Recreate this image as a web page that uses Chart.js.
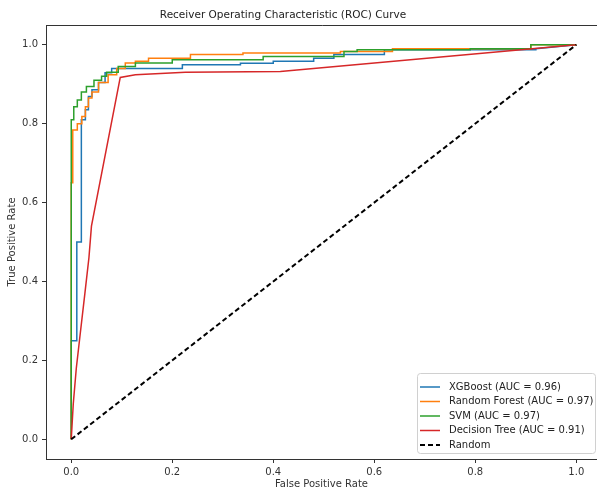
<!DOCTYPE html>
<html>
<head>
<meta charset="utf-8">
<script src="https://cdn.jsdelivr.net/npm/chart.js@4.4.1/dist/chart.umd.min.js"></script>
<style>
  html, body { margin: 0; padding: 0; background: #fff; }
  canvas { display: block; }
</style>
</head>
<body>
<canvas id="roc" width="597" height="490"></canvas>
<script>
const xTicks = [0, 0.2, 0.4, 0.6, 0.8, 1.0];
const yTicks = [0, 0.2, 0.4, 0.6, 0.8, 1.0];

const seriesNames = ['XGBoost (AUC = 0.96)', 'Random Forest (AUC = 0.97)', 'SVM (AUC = 0.97)', 'Decision Tree (AUC = 0.91)', 'Random'];

const xgbFpr = [0, 0, 0.011, 0.011, 0.02, 0.02, 0.028, 0.028, 0.034, 0.034, 0.041, 0.041, 0.054, 0.054, 0.067, 0.067, 0.08, 0.08, 0.22, 0.22, 0.335, 0.335, 0.40, 0.40, 0.48, 0.48, 0.52, 0.52, 0.62, 0.62, 0.92, 0.92, 1];
const xgbTpr = [0, 0.25, 0.25, 0.50, 0.50, 0.81, 0.81, 0.835, 0.835, 0.869, 0.869, 0.886, 0.886, 0.904, 0.904, 0.929, 0.929, 0.94, 0.94, 0.949, 0.949, 0.953, 0.953, 0.958, 0.958, 0.966, 0.966, 0.975, 0.975, 0.987, 0.987, 0.99, 1.0];

const rfFpr = [0, 0, 0.003, 0.003, 0.012, 0.012, 0.021, 0.021, 0.028, 0.028, 0.034, 0.034, 0.041, 0.041, 0.054, 0.054, 0.073, 0.073, 0.09, 0.09, 0.107, 0.107, 0.127, 0.127, 0.153, 0.153, 0.236, 0.236, 0.34, 0.34, 0.533, 0.533, 0.636, 0.636, 0.91, 0.91, 1];
const rfTpr = [0, 0.65, 0.65, 0.784, 0.784, 0.80, 0.80, 0.818, 0.818, 0.843, 0.843, 0.865, 0.865, 0.88, 0.88, 0.904, 0.904, 0.924, 0.924, 0.94, 0.94, 0.954, 0.954, 0.958, 0.958, 0.966, 0.966, 0.975, 0.975, 0.979, 0.979, 0.983, 0.983, 0.99, 0.99, 1.0, 1.0];

const svmFpr = [0, 0, 0.005, 0.005, 0.012, 0.012, 0.02, 0.02, 0.03, 0.03, 0.045, 0.045, 0.06, 0.06, 0.07, 0.07, 0.093, 0.093, 0.127, 0.127, 0.2, 0.2, 0.38, 0.38, 0.54, 0.54, 0.566, 0.566, 0.79, 0.79, 0.91, 0.91, 1];
const svmTpr = [0, 0.81, 0.81, 0.843, 0.843, 0.86, 0.86, 0.88, 0.88, 0.894, 0.894, 0.91, 0.91, 0.92, 0.92, 0.93, 0.93, 0.945, 0.945, 0.954, 0.954, 0.962, 0.962, 0.97, 0.97, 0.983, 0.983, 0.987, 0.987, 0.99, 0.99, 1.0, 1.0];

const dtFpr = [0, 0.004, 0.01, 0.018, 0.027, 0.035, 0.04, 0.097, 0.127, 0.226, 0.414, 1];
const dtTpr = [0, 0.09, 0.18, 0.27, 0.37, 0.46, 0.54, 0.917, 0.924, 0.93, 0.932, 1];

const randFpr = [0, 1];
const randTpr = [0, 1];

const colors = ['#1f77b4', '#ff7f0e', '#2ca02c', '#d62728', '#000000'];

function pts(xs, ys) {
  return xs.map((x, i) => ({ x: x, y: ys[i] }));
}

const FONT = 'DejaVu Sans';

// matplotlib style frame, title and legend
const mplDecor = {
  id: 'mplDecor',
  afterDatasetsDraw(chart) {
    const ctx = chart.ctx;
    const a = chart.chartArea;
    ctx.save();
    ctx.strokeStyle = '#333';
    ctx.lineWidth = 1;
    ctx.beginPath();
    ctx.moveTo(a.left + 0.5, a.top + 0.5);
    ctx.lineTo(a.right + 5, a.top + 0.5);
    ctx.stroke();

    // title
    ctx.fillStyle = '#222';
    ctx.font = '10.5px "' + FONT + '"';
    ctx.textAlign = 'center';
    ctx.textBaseline = 'middle';
    ctx.fillText('Receiver Operating Characteristic (ROC) Curve', 283, 15);

    // legend
    const bx = 417, by = 373, bw = 178, bh = 80;
    ctx.fillStyle = 'rgba(255,255,255,0.85)';
    ctx.strokeStyle = '#d0d0d0';
    ctx.beginPath();
    ctx.roundRect(bx + 0.5, by + 0.5, bw, bh, 3);
    ctx.fill();
    ctx.stroke();
    ctx.font = '10px "' + FONT + '"';
    ctx.textAlign = 'left';
    chart.data.datasets.forEach((ds, i) => {
      const y = by + 14 + i * 14.5;
      ctx.strokeStyle = ds.borderColor;
      ctx.lineWidth = ds.borderWidth;
      ctx.setLineDash(ds.borderDash || []);
      ctx.beginPath();
      ctx.moveTo(bx + 3, y);
      ctx.lineTo(bx + 23, y);
      ctx.stroke();
      ctx.setLineDash([]);
      ctx.fillStyle = '#222';
      ctx.fillText(ds.label, bx + 32, y);
    });
    ctx.restore();
  }
};

const series = [
  pts(xgbFpr, xgbTpr),
  pts(rfFpr, rfTpr),
  pts(svmFpr, svmTpr),
  pts(dtFpr, dtTpr),
  pts(randFpr, randTpr)
];

new Chart(document.getElementById('roc'), {
  type: 'scatter',
  data: {
    datasets: series.map((d, i) => ({
      label: seriesNames[i],
      data: d,
      showLine: true,
      borderColor: colors[i],
      backgroundColor: colors[i],
      borderWidth: i === 4 ? 2 : 1.5,
      borderDash: i === 4 ? [5, 3] : [],
      pointRadius: 0,
      tension: 0,
      order: 5 - i
    }))
  },
  options: {
    responsive: false,
    animation: false,
    devicePixelRatio: 1,
    layout: { padding: { top: 25, left: 0, right: 0, bottom: 0 } },
    plugins: {
      legend: { display: false },
      title: { display: false },
      tooltip: { enabled: false }
    },
    scales: {
      x: {
        type: 'linear',
        min: -0.05,
        max: 1.041,
        afterFit(scale) { scale.height = 31; },
        afterBuildTicks(scale) { scale.ticks = xTicks.map(v => ({ value: v })); },
        grid: { drawOnChartArea: false, drawTicks: true, tickLength: 4, color: '#333' },
        border: { display: true, color: '#333' },
        ticks: {
          padding: 3,
          color: '#333',
          font: { family: FONT, size: 10 },
          maxRotation: 0,
          callback: v => v.toFixed(1)
        },
        title: {
          display: true,
          text: 'False Positive Rate',
          color: '#333',
          font: { family: FONT, size: 10 },
          padding: { top: 0, bottom: 0 }
        }
      },
      y: {
        type: 'linear',
        min: -0.05,
        max: 1.05,
        afterFit(scale) { scale.width = 46; },
        afterBuildTicks(scale) { scale.ticks = yTicks.map(v => ({ value: v })); },
        grid: { drawOnChartArea: false, drawTicks: true, tickLength: 4, color: '#333' },
        border: { display: true, color: '#333' },
        ticks: {
          padding: 4,
          color: '#333',
          font: { family: FONT, size: 10 },
          callback: v => v.toFixed(1)
        },
        title: {
          display: true,
          text: 'True Positive Rate',
          color: '#333',
          font: { family: FONT, size: 10 },
          padding: { top: 6, bottom: 0 }
        }
      }
    }
  },
  plugins: [mplDecor]
});
</script>
</body>
</html>
